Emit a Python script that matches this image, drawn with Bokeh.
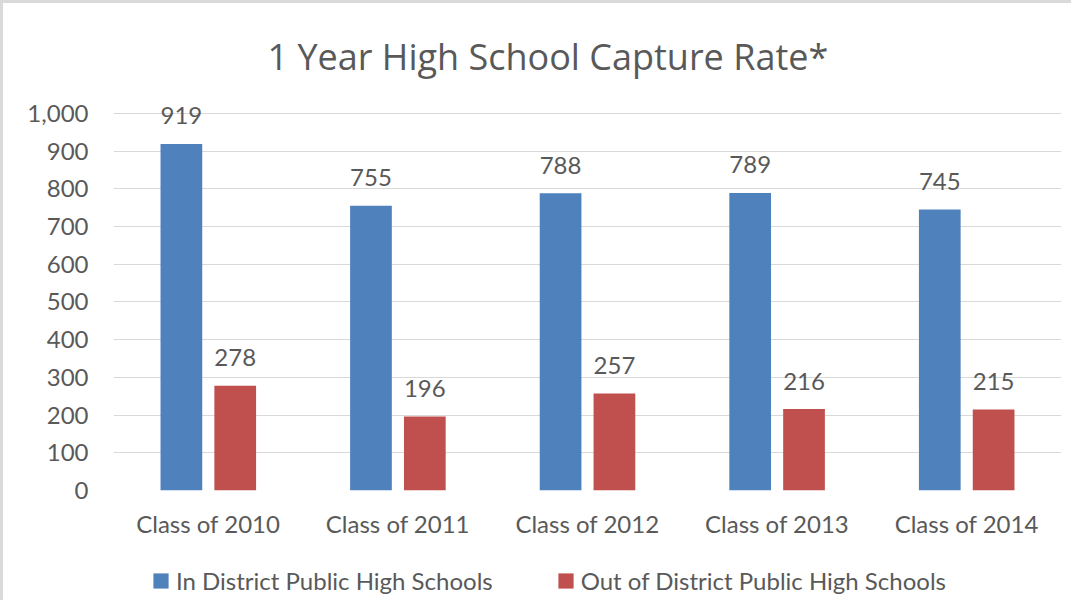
from bokeh.plotting import figure
from bokeh.layouts import column
from bokeh.models import ColumnDataSource, FactorRange, Legend, LegendItem, NumeralTickFormatter, Range1d
from bokeh.transform import dodge
from bokeh.core.properties import value
from bokeh.embed import file_html
from bokeh.resources import INLINE

categories = ["Class of 2010", "Class of 2011", "Class of 2012", "Class of 2013", "Class of 2014"]
in_district = [919, 755, 788, 789, 745]
out_district = [278, 196, 257, 216, 215]
series_names = ["In District Public High Schools", "Out of District Public High Schools"]
title_text = "1 Year High School Capture Rate*"

FONT = "Lato"
TXT = "#595959"
BLUE = "#4F81BD"
RED = "#C0504D"
FS = "24px"

src = ColumnDataSource(dict(
    cat=categories,
    ind=in_district,
    outd=out_district,
    ind_lbl=[str(v) for v in in_district],
    outd_lbl=[str(v) for v in out_district],
))

# y range ends a little above the top tick so the 919 label is not clipped
p = figure(
    width=1068, height=547,
    x_range=FactorRange(factors=categories, range_padding=0),
    y_range=Range1d(0, 1021),
    output_backend="svg", toolbar_location=None,
    min_border_left=110, min_border_right=10, min_border_top=102, min_border_bottom=60,
    title=title_text,
)
p.outline_line_color = None
p.title.text_font = "Open Sans"
p.title.text_font_size = "36px"
p.title.text_font_style = "normal"
p.title.text_color = TXT
p.title.align = "left"
p.title.offset = 154
p.title.standoff = 49

off = 0.142
w = 0.22
r1 = p.vbar(x=dodge("cat", -off, range=p.x_range), top="ind", width=w, source=src,
            fill_color=BLUE, line_color=None)
r2 = p.vbar(x=dodge("cat", off, range=p.x_range), top="outd", width=w, source=src,
            fill_color=RED, line_color=None)

p.text(x=dodge("cat", -off, range=p.x_range), y="ind", text="ind_lbl", source=src,
       text_font=value(FONT), text_font_size=FS, text_color=TXT,
       text_align="center", text_baseline="alphabetic", y_offset=-28)
p.text(x=dodge("cat", off, range=p.x_range), y="outd", text="outd_lbl", source=src,
       text_font=value(FONT), text_font_size=FS, text_color=TXT,
       text_align="center", text_baseline="alphabetic", y_offset=-28)

# axes
p.yaxis.ticker = list(range(0, 1001, 100))
p.yaxis.formatter = NumeralTickFormatter(format="0,0")
for ax in (p.xaxis[0], p.yaxis[0]):
    ax.axis_line_color = None
    ax.major_tick_line_color = None
    ax.minor_tick_line_color = None
    ax.major_label_text_font = FONT
    ax.major_label_text_font_size = FS
    ax.major_label_text_color = TXT
p.yaxis.major_label_standoff = 19
p.xaxis.major_label_standoff = 12

p.xgrid.grid_line_color = None
p.ygrid.grid_line_color = "#D9D9D9"
p.ygrid.grid_line_width = 1

# legend strip
lg = figure(
    width=1068, height=50,
    x_range=Range1d(0, 1), y_range=Range1d(0, 1),
    x_axis_type=None, y_axis_type=None,
    output_backend="svg", toolbar_location=None,
    min_border_left=0, min_border_right=0, min_border_top=0, min_border_bottom=0,
)
lg.outline_line_color = None
lg.xgrid.visible = False
lg.ygrid.visible = False
# off-screen placeholder renderers that only carry the legend swatch styles
dummy = ColumnDataSource(dict(x=[-5], top=[0]))
d1 = lg.vbar(x="x", top="top", width=0.1, source=dummy, fill_color=BLUE, line_color=None)
d2 = lg.vbar(x="x", top="top", width=0.1, source=dummy, fill_color=RED, line_color=None)

legend = Legend(items=[LegendItem(label=series_names[0], renderers=[d1]),
                       LegendItem(label=series_names[1], renderers=[d2])],
                orientation="horizontal", location=(38, 5),
                glyph_width=19, glyph_height=19, label_standoff=6, spacing=63,
                label_text_font=FONT, label_text_font_size=FS, label_text_color=TXT,
                background_fill_alpha=0, border_line_color=None, padding=0, margin=0)
lg.add_layout(legend, "center")

layout = column(p, lg, spacing=0,
                styles={"border-left": "3px solid #d9d9d9", "border-top": "3px solid #d9d9d9"})

open("out.html", "w").write(file_html(layout, INLINE))
